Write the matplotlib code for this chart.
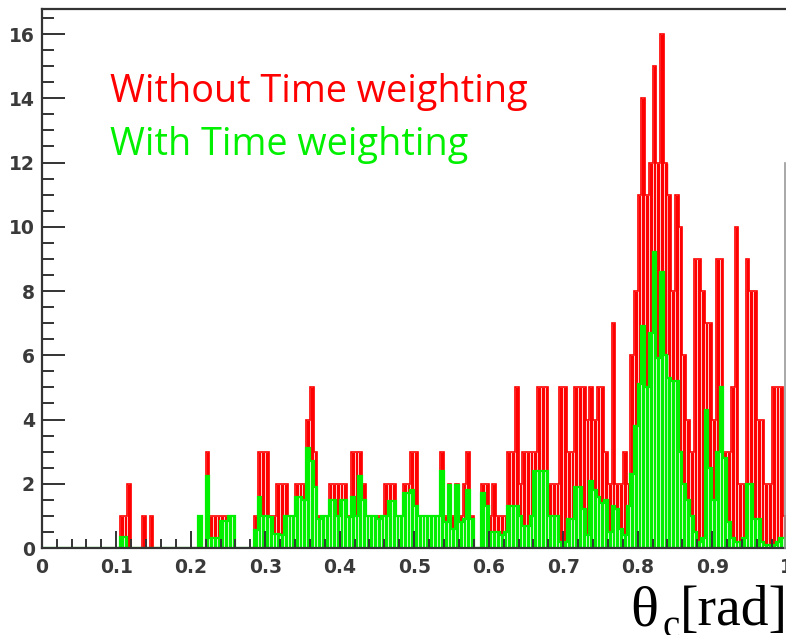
import numpy as np
import matplotlib
matplotlib.use("Agg")
import matplotlib.pyplot as plt
from matplotlib.ticker import MultipleLocator, FormatStrFormatter
from matplotlib.lines import Line2D

# theta_c histogram, 200 bins of 0.005 rad between 0 and 1
bin_edges = np.linspace(0.0, 1.0, 201)

# counts without time weighting
counts_plain = [
    0, 0, 0, 0, 0, 0, 0, 0, 0, 0, 0, 0, 0, 0, 0, 0, 0, 0, 0, 0,
    0, 1, 1, 2, 0, 0, 0, 1, 0, 1, 0, 0, 0, 0, 0, 0, 0, 0, 0, 0,
    0, 0, 1, 0, 3, 1, 1, 1, 1, 1, 1, 1, 0, 0, 0, 0, 0, 1, 3, 3,
    3, 1, 1, 2, 2, 2, 1, 1, 2, 2, 2, 4, 5, 3, 1, 1, 1, 2, 2, 2,
    2, 2, 1, 3, 3, 3, 2, 1, 1, 1, 1, 1, 2, 2, 2, 1, 1, 2, 2, 3,
    3, 1, 1, 1, 1, 1, 1, 3, 1, 2, 1, 2, 1, 2, 3, 1, 0, 0, 2, 2,
    1, 2, 1, 1, 1, 3, 3, 5, 2, 3, 3, 3, 3, 5, 5, 5, 2, 2, 2, 5,
    5, 3, 3, 5, 5, 5, 4, 5, 4, 5, 5, 3, 2, 7, 2, 2, 3, 2, 6, 8,
    11, 14, 11, 12, 15, 12, 16, 12, 11, 8, 11, 10, 6, 4, 3, 9, 9, 8, 7, 7,
    4, 9, 9, 3, 3, 5, 10, 2, 2, 9, 8, 8, 4, 4, 2, 2, 5, 5, 5, 1,
]

# weighted sums with time weighting
counts_weighted = [
    0, 0, 0, 0, 0, 0, 0, 0, 0, 0, 0, 0, 0, 0, 0, 0, 0, 0, 0, 0,
    0, 0.35, 0.35, 0, 0, 0, 0, 0, 0, 0, 0, 0, 0, 0, 0, 0, 0, 0, 0, 0,
    0, 0, 1.0, 0, 2.25, 0.3, 0.3, 0.3, 0.85, 0.85, 1.0, 1.0, 0, 0, 0, 0, 0, 0.56, 1.6, 1.0,
    1.0, 0.95, 0.45, 0.44, 0.4, 1.0, 1.0, 1.0, 1.6, 1.6, 1.5, 3.1, 2.7, 1.9, 0.9, 1.0, 1.0, 1.5, 1.5, 1.0,
    1.5, 1.5, 0.95, 1.6, 1.0, 2.25, 1.5, 1.0, 1.0, 1.0, 0.9, 1.0, 1.0, 1.45, 1.45, 1.0, 1.0, 1.7, 1.7, 1.8,
    1.3, 1.0, 1.0, 1.0, 1.0, 1.0, 1.0, 2.4, 0.8, 1.95, 0.6, 1.95, 0.8, 0.9, 1.8, 0.9, 0, 0, 1.7, 1.3,
    0.5, 0.5, 0.5, 0.4, 0.5, 1.3, 1.3, 1.3, 1.0, 0.7, 0.7, 1.0, 2.4, 2.4, 2.4, 2.4, 1.0, 1.0, 1.0, 0.2,
    0.2, 0.9, 0.9, 1.9, 1.9, 1.2, 0.4, 2.1, 1.8, 1.6, 1.4, 1.5, 0.5, 1.3, 1.2, 0.6, 0.4, 1.3, 2.3, 3.8,
    5.1, 6.9, 5.0, 6.7, 9.2, 5.9, 8.6, 6.0, 5.3, 5.2, 5.2, 3.0, 2.0, 1.5, 1.0, 0.5, 0.2, 0.3, 4.3, 2.5,
    1.5, 3.0, 5.0, 2.8, 0.8, 0.3, 0.2, 0.2, 0.3, 2.0, 2.0, 0.9, 0.9, 0.2, 0.1, 0.1, 0.1, 0.2, 0.3, 0.3,
]

x_ticks = [0, 0.1, 0.2, 0.3, 0.4, 0.5, 0.6, 0.7, 0.8, 0.9, 1.0]
y_ticks = [0, 2, 4, 6, 8, 10, 12, 14, 16]

RED = "#ff0000"
GREEN = "#00f000"
AXIS = "#333333"

W, H = 786, 635
fig = plt.figure(figsize=(W / 100, H / 100), dpi=100)
fig.patch.set_facecolor("white")

# frame reaches the right edge of the canvas
ax = fig.add_axes([41.7 / W, 87 / H, 745 / W, 539 / H])

width = bin_edges[1] - bin_edges[0]
ax.bar(bin_edges[:-1], counts_plain, width=width, align="edge",
       color=RED, edgecolor="white", linewidth=0.45)
ax.stairs(counts_plain, bin_edges, color=RED, linewidth=1.2)
ax.bar(bin_edges[:-1], counts_weighted, width=width, align="edge",
       color=GREEN, edgecolor="white", linewidth=0.45)
ax.stairs(counts_weighted, bin_edges, color=GREEN, linewidth=1.6)

ax.set_xlim(0, 1.0)
ax.set_ylim(0, 16.78)

ax.set_xticks(x_ticks)
ax.set_yticks(y_ticks)
ax.xaxis.set_minor_locator(MultipleLocator(0.02))
ax.yaxis.set_minor_locator(MultipleLocator(0.5))
ax.xaxis.set_major_formatter(FormatStrFormatter("%g"))

ax.tick_params(axis="x", which="major", direction="in", length=12, width=1.4,
               color=AXIS, pad=7)
ax.tick_params(axis="x", which="minor", direction="in", length=6.5, width=1.4,
               color=AXIS)
ax.tick_params(axis="y", which="major", direction="in", length=16.5, width=1.4,
               color=AXIS, pad=5)
ax.tick_params(axis="y", which="minor", direction="in", length=8.5, width=1.4,
               color=AXIS)
for lab in ax.get_xticklabels() + ax.get_yticklabels():
    lab.set_family("DejaVu Sans")
    lab.set_fontweight("bold")
    lab.set_fontsize(13.5)
    lab.set_color("#3a3a3a")

for side in ("left", "top", "bottom"):
    ax.spines[side].set_color(AXIS)
    ax.spines[side].set_linewidth(1.6)
ax.spines["right"].set_visible(False)

# legend written as coloured text
fig.text(110 / W, 1 - 102 / H, "Without Time weighting", color=RED,
         family="Open Sans", fontsize=27.2, va="baseline", ha="left")
fig.text(110 / W, 1 - 155 / H, "With Time weighting", color=GREEN,
         family="Open Sans", fontsize=27.2, va="baseline", ha="left")

# axis title in serif, theta with subscript c
serif = "Liberation Serif"
fig.text(630 / W, 1 - 625 / H, "θ", family=serif, fontsize=42,
         va="baseline", ha="left")
fig.text(663 / W, 1 - 637 / H, "c", family=serif, fontsize=28,
         va="baseline", ha="left")
fig.text(680 / W, 1 - 625 / H, "[rad]", family=serif, fontsize=40,
         va="baseline", ha="left")

# thin grey border line at the right
fig.add_artist(Line2D([785 / W, 785 / W], [1 - 548 / H, 1 - 163 / H],
                      transform=fig.transFigure, color="#999999", linewidth=1.2))

fig.savefig("out.png", dpi=100)
